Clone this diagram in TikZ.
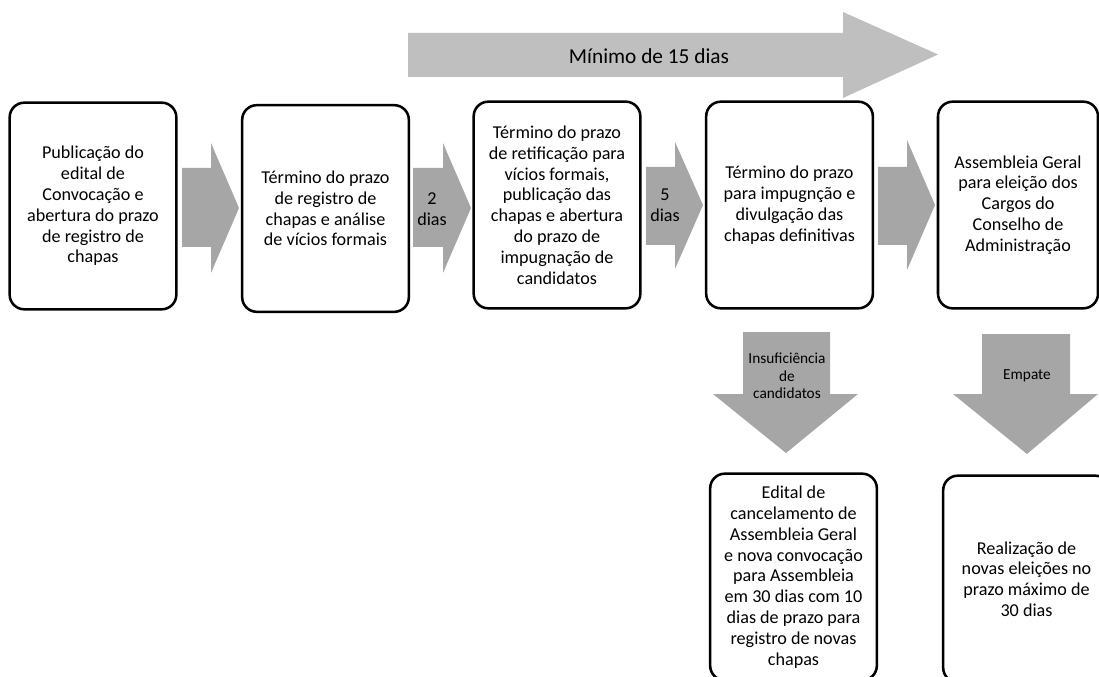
\documentclass[tikz,border=0pt]{standalone}
\usepackage{fontspec}
\setmainfont{Carlito}
\usepackage{tikz}

\begin{document}
\begin{tikzpicture}[x=0.75pt,y=-0.75pt,
  etapa/.style={draw, line width=1.9pt, rounded corners=11pt, align=center, minimum width=125pt, minimum height=155pt, inner sep=2pt, font=\fontsize{13.6}{15.6}\selectfont},
  seta/.style={fill=black!35},
  rotulo/.style={align=center, inner sep=0pt, font=\fontsize{13.6}{15.6}\selectfont}]
\useasboundingbox (0,0) rectangle (1099,677);
\clip (0,0) rectangle (1099,677);
% prazo total
\fill[black!25] (408,33) -- (843,33) -- (843,12) -- (938,54.5) -- (843,98) -- (843,77) -- (408,77) -- cycle;
\node[rotulo, font=\fontsize{16}{18}\selectfont] (minimo) at (649,56) {Mínimo de 15 dias};
% etapas
\node[etapa] (publicacao) at (93,206) {Publicação do\\edital de\\Convocação e\\abertura do prazo\\de registro de\\chapas};
\node[etapa] (registro) at (325.5,208.5) {Término do prazo\\de registro de\\chapas e análise\\de vícios formais};
\node[etapa] (retificacao) at (557,205) {Término do prazo\\de retificação para\\vícios formais,\\publicação das\\chapas e abertura\\do prazo de\\impugnação de\\candidatos};
\node[etapa] (impugnacao) at (789.5,205) {Término do prazo\\para impugnção e\\divulgação das\\chapas definitivas};
\node[etapa, minimum width=120pt] (assembleia) at (1018,205) {Assembleia Geral\\para eleição dos\\Cargos do\\Conselho de\\Administração};
\node[etapa] (cancelamento) at (793.5,577) {Edital de\\cancelamento de\\Assembleia Geral\\e nova convocação\\para Assembleia\\em 30 dias com 10\\dias de prazo para\\registro de novas\\chapas};
\node[etapa] (novaseleicoes) at (1026.5,579) {Realização de\\novas eleições no\\prazo máximo de\\30 dias};
% setas entre etapas
\fill[seta] (182,168) -- (211,168) -- (211,143) -- (239,208) -- (211,273) -- (211,247) -- (182,247) -- cycle;
\fill[seta] (413,168) -- (443,168) -- (443,143) -- (471,208) -- (443,273) -- (443,247) -- (413,247) -- cycle;
\node[rotulo] (doisdias) at (432,209) {2\\dias};
\fill[seta] (646,167) -- (675,167) -- (675,142) -- (703,205) -- (675,269) -- (675,245) -- (646,245) -- cycle;
\node[rotulo] (cincodias) at (665,205) {5\\dias};
\fill[seta] (878,167) -- (907,167) -- (907,140) -- (935,205) -- (907,270) -- (907,245) -- (878,245) -- cycle;
% desvios
\fill[seta] (743,332) -- (830,332) -- (830,394) -- (858,394) -- (786,453) -- (713,394) -- (743,394) -- cycle;
\node[rotulo, font=\fontsize{11.5}{13}\selectfont] (insuficiencia) at (787,376) {Insuficiência\\de\\candidatos};
\fill[seta] (982,334) -- (1070,334) -- (1070,394) -- (1098,394) -- (1027,454) -- (953,394) -- (982,394) -- cycle;
\node[rotulo, font=\fontsize{11.5}{13}\selectfont] (empate) at (1027,376) {Empate};
\end{tikzpicture}
\end{document}
